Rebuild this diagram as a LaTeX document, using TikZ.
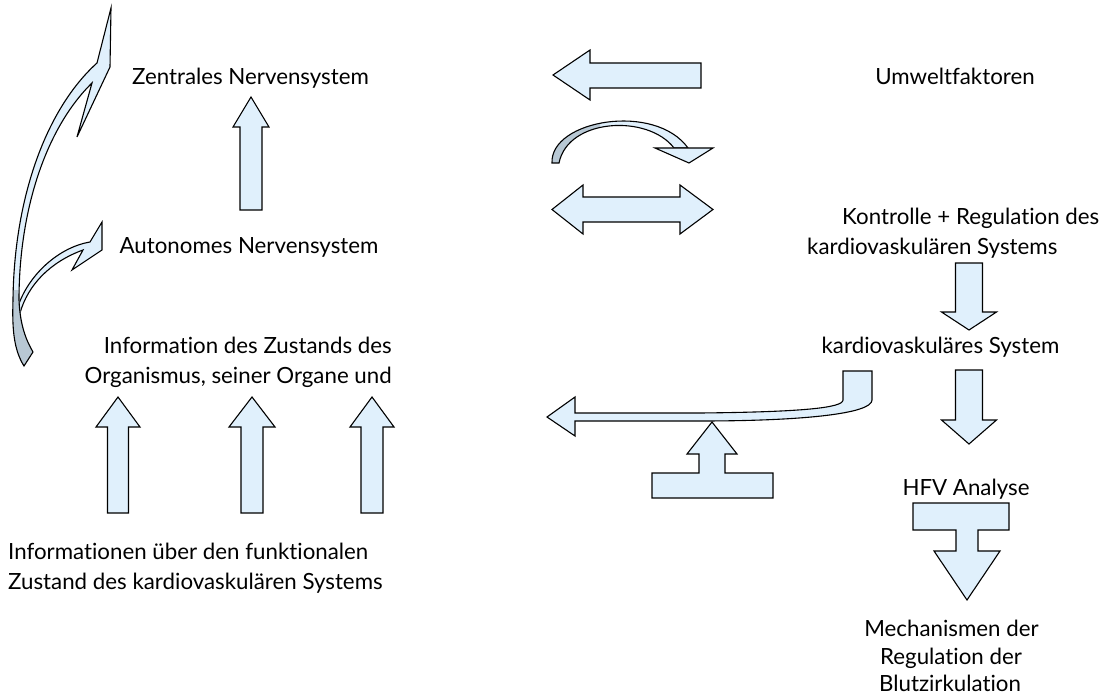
\documentclass[tikz,border=0pt]{standalone}
\usepackage{fontspec}
\setmainfont{Lato}[Ligatures={NoCommon,NoRare}]
\definecolor{afill}{HTML}{E0F0FC}
\definecolor{agrey}{HTML}{B8C8D4}
\newcommand\blkup[6]{\draw[blk] (#1,#2) -- (#1+#5,#3) -- (#1+#6,#3) -- (#1+#6,#4) -- (#1-#6,#4) -- (#1-#6,#3) -- (#1-#5,#3) -- cycle;}
\newcommand\blkdown[6]{\draw[blk] (#1-#6,#2) -- (#1+#6,#2) -- (#1+#6,#3) -- (#1+#5,#3) -- (#1,#4) -- (#1-#5,#3) -- (#1-#6,#3) -- cycle;}
\begin{document}
\begin{tikzpicture}[x=1pt,y=-1pt,
  blk/.style={draw=black, fill=afill, line width=1.1pt, line join=miter},
  outl/.style={draw=black, line width=1.1pt, line join=miter},
  lbl/.style={inner sep=0pt, anchor=base, font=\fontsize{22.3}{27}\selectfont}]
\useasboundingbox (0,0) rectangle (1109,698);
% texts
\node[lbl] (zns) at (250.5,85) {Zentrales Nervensystem};
\node[lbl] (umw) at (955,85) {Umweltfaktoren};
\node[lbl] (ans) at (249,253) {Autonomes Nervensystem};
\node[lbl, anchor=base west] (kr1) at (842,224) {Kontrolle + Regulation des};
\node[lbl, anchor=base west] (kr2) at (807,254) {kardiovaskulären Systems};
\node[lbl, anchor=base east] (inf1) at (392,353) {Information des Zustands des};
\node[lbl, anchor=base east] (inf2) at (392,383) {Organismus, seiner Organe und};
\node[lbl] (kvs) at (940.5,353) {kardiovaskuläres System};
\node[lbl] (hfv) at (966,495) {HFV Analyse};
\node[lbl, anchor=base west] (fz1) at (8,559) {Informationen über den funktionalen};
\node[lbl, anchor=base west] (fz2) at (8,589) {Zustand des kardiovaskulären Systems};
\node[lbl] (me1) at (951.5,636) {Mechanismen der};
\node[lbl] (me2) at (951,664) {Regulation der};
\node[lbl] (me3) at (950,691) {Blutzirkulation};
% straight block arrows
\blkup{251}{97}{127}{210}{18}{11}
\blkup{118}{397}{427}{513}{22}{10.5}
\blkup{252}{397}{427}{513}{23}{11}
\blkup{372}{397}{427}{513}{22}{11}
\blkdown{969}{263}{312}{330}{27.5}{13.5}
\blkdown{969}{370}{420}{444}{27.5}{13.5}
% left arrow
\draw[blk] (553,75) -- (590,50) -- (590,63) -- (701,63) -- (701,88) -- (590,88) -- (590,100) -- cycle;
% double arrow
\draw[blk] (552,209.5) -- (583,185) -- (583,197) -- (680,197) -- (680,185) -- (713,209.5) -- (680,234) -- (680,222) -- (583,222) -- (583,234) -- cycle;
% curved arrow (middle)
\path[fill=afill] (552,163) .. controls (550,120) and (655,102) .. (688,148) -- (674,148) .. controls (648,114) and (568,118) .. (559,163) -- cycle;
\begin{scope}
\clip (540,100) rectangle (600,170);
\path[fill=agrey] (552,163) .. controls (550,120) and (655,102) .. (688,148) -- (674,148) .. controls (648,114) and (568,118) .. (559,163) -- cycle;
\end{scope}
\draw[outl] (552,163) .. controls (550,120) and (655,102) .. (688,148) -- (674,148) .. controls (648,114) and (568,118) .. (559,163) -- cycle;
\draw[blk] (655,148) -- (713,148) -- (689,163) -- cycle;
% bent left arrow
\draw[blk] (547,417) -- (575,397) -- (575,413) -- (700,413) .. controls (800,412) and (843,408) .. (843,400) -- (843,371) -- (872,371) -- (872,400) .. controls (872,414) and (800,421) .. (700,421) -- (575,421) -- (575,436) -- cycle;
% T up arrow
\draw[blk] (712,422) -- (737,454) -- (725,454) -- (725,473) -- (773,473) -- (773,498) -- (652,498) -- (652,473) -- (699,473) -- (699,454) -- (687,454) -- cycle;
% T down arrow (HFV)
\draw[blk] (913,503) -- (1009,503) -- (1009,530) -- (978,530) -- (978,551) -- (1000,551) -- (967,600) -- (934,551) -- (956,551) -- (956,530) -- (913,530) -- cycle;
% small curved arrow (left)
\draw[blk] (90,242) -- (102,222) -- (102,250) -- (72,270) -- (83,250) .. controls (50,262) and (28,285) .. (20,313) -- (17,310) .. controls (25,280) and (55,248) .. cycle;
% big curved arrow (left)
\path[fill=afill] (97,63) -- (111,8) -- (110,67) -- (77,137) -- (92,83) .. controls (46,128) and (19,210) .. (19,300) .. controls (20,325) and (26,340) .. (33,352) -- (24,366) .. controls (14,350) and (12,330) .. (13,300) .. controls (14,200) and (45,110) .. cycle;
\path[fill=agrey] (13,290) .. controls (12,330) and (14,350) .. (24,366) -- (33,352) .. controls (26,340) and (20,325) .. (19,290) -- cycle;
\draw[outl] (97,63) -- (111,8) -- (110,67) -- (77,137) -- (92,83) .. controls (46,128) and (19,210) .. (19,300) .. controls (20,325) and (26,340) .. (33,352) -- (24,366) .. controls (14,350) and (12,330) .. (13,300) .. controls (14,200) and (45,110) .. cycle;
\end{tikzpicture}
\end{document}
